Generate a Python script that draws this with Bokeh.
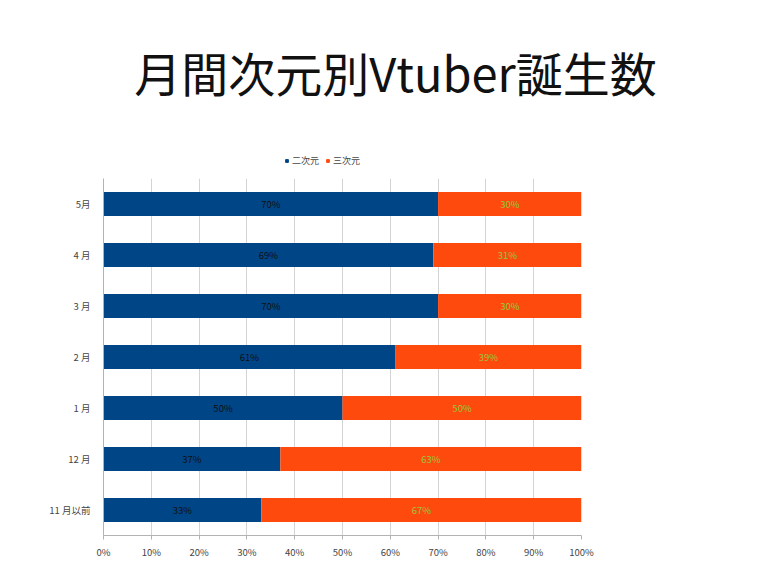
from bokeh.plotting import figure
from bokeh.layouts import column
from bokeh.models import ColumnDataSource, Range1d, Legend, LegendItem, PrintfTickFormatter, FixedTicker
from bokeh.core.properties import value
from bokeh.embed import file_html
from bokeh.resources import INLINE

# ---- data (bottom to top) ----
months = ["11 月以前", "12 月", "1 月", "2 月", "3 月", "4 月", "5月"]
two_d = [33, 37, 50, 61, 70, 69, 70]
three_d = [67, 63, 50, 39, 30, 31, 30]
series = ["二次元", "三次元"]
colors = ["#004586", "#ff4a0e"]
title_text = "月間次元別Vtuber誕生数"
x_ticks = [0, 10, 20, 30, 40, 50, 60, 70, 80, 90, 100]

FONT = "Noto Sans CJK JP"
W = 775

# ---- header figure: title + legend ----
head = figure(width=W, height=178, x_range=Range1d(0, W), y_range=Range1d(0, 178),
              output_backend="svg", toolbar_location=None, frame_align=False,
              min_border_left=0, min_border_right=0, min_border_top=0, min_border_bottom=0)
head.axis.visible = False
head.grid.visible = False
head.outline_line_color = None
head.text(x=[395], y=[107], text=[title_text], text_align="center", text_baseline="middle",
          text_font=value(FONT), text_font_size="47px", text_color="#111111")
# legend swatches (kept outside the visible range; only their legend glyphs show)
sw0 = head.scatter(x=[-100], y=[-100], marker="square", size=8, color=colors[0])
sw1 = head.scatter(x=[-100], y=[-100], marker="square", size=8, color=colors[1])
legend = Legend(items=[LegendItem(label=series[0], renderers=[sw0]),
                       LegendItem(label=series[1], renderers=[sw1])],
                orientation="horizontal", location=(283, 11),
                glyph_width=7, glyph_height=7, label_standoff=2, spacing=5,
                padding=0, margin=0, border_line_color=None, background_fill_alpha=0,
                label_text_font=FONT, label_text_font_size="9px",
                label_text_color="#444444", label_height=10)
head.add_layout(legend, "center")

# ---- main chart ----
src = ColumnDataSource(dict(
    month=months,
    two=two_d,
    three=three_d,
    two_mid=[a / 2 for a in two_d],
    three_mid=[a + b / 2 for a, b in zip(two_d, three_d)],
    two_lbl=[f"{a}%" for a in two_d],
    three_lbl=[f"{b}%" for b in three_d],
))

p = figure(width=W, height=385, y_range=months, x_range=Range1d(0, 100),
           output_backend="svg", toolbar_location=None, frame_align=False,
           min_border_left=103, min_border_right=194, min_border_top=0, min_border_bottom=28)
p.outline_line_color = None

p.hbar_stack(["two", "three"], y="month", height=0.47, color=colors,
             line_color=None, source=src)

p.text(x="two_mid", y="month", text="two_lbl", source=src, text_align="center",
       text_baseline="middle", text_font_size="9.5px", text_color="#111111",
       text_font=value(FONT))
p.text(x="three_mid", y="month", text="three_lbl", source=src, text_align="center",
       text_baseline="middle", text_font_size="9.5px", text_color="#94c83c",
       text_font=value(FONT))

p.xaxis.ticker = FixedTicker(ticks=x_ticks)
p.xaxis.formatter = PrintfTickFormatter(format="%d%%")
p.xaxis.axis_line_color = "#b3b3b3"
p.xaxis.major_tick_line_color = "#b3b3b3"
p.xaxis.major_tick_out = 4
p.xaxis.major_tick_in = 0
p.xaxis.minor_tick_line_color = None
p.xaxis.major_label_text_font = FONT
p.xaxis.major_label_text_font_size = "9.5px"
p.xaxis.major_label_text_color = "#444444"
p.xaxis.major_label_standoff = 5

p.yaxis.axis_line_color = "#b3b3b3"
p.yaxis.major_tick_line_color = None
p.yaxis.minor_tick_line_color = None
p.yaxis.major_label_text_font = FONT
p.yaxis.major_label_text_font_size = "9.5px"
p.yaxis.major_label_text_color = "#444444"
p.yaxis.major_label_standoff = 7

p.xgrid.grid_line_color = "#d4d4d4"
p.xgrid.ticker = FixedTicker(ticks=x_ticks)
p.ygrid.grid_line_color = None

layout = column(head, p, spacing=0)
open("out.html", "w").write(file_html(layout, INLINE))
